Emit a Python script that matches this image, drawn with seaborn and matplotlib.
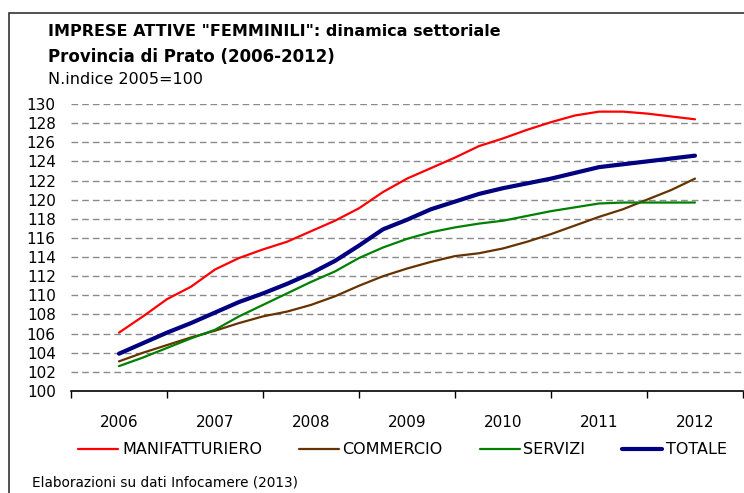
import numpy as np
import pandas as pd
import matplotlib.pyplot as plt
from matplotlib.patches import Rectangle
import seaborn as sns

# -----------------------------
# Dati (n. indice 2005=100, trimestrali)
# -----------------------------
anni = ["2006", "2007", "2008", "2009", "2010", "2011", "2012"]

manifatturiero = [106.1, 107.8, 109.6, 110.9, 112.7, 113.9, 114.8, 115.6, 116.7,
                  117.8, 119.1, 120.8, 122.2, 123.3, 124.4, 125.6, 126.4, 127.3,
                  128.1, 128.8, 129.2, 129.2, 129.0, 128.7, 128.4]
commercio = [103.1, 104.0, 104.8, 105.6, 106.3, 107.1, 107.8, 108.3, 109.0,
             109.9, 111.0, 112.0, 112.8, 113.5, 114.1, 114.4, 114.9, 115.6,
             116.4, 117.3, 118.2, 119.0, 120.0, 121.0, 122.2]
servizi = [102.6, 103.5, 104.5, 105.5, 106.4, 107.8, 109.0, 110.2, 111.4,
           112.5, 113.9, 115.0, 115.9, 116.6, 117.1, 117.5, 117.8, 118.3,
           118.8, 119.2, 119.6, 119.7, 119.7, 119.7, 119.7]
totale = [103.9, 105.0, 106.1, 107.1, 108.2, 109.3, 110.2, 111.2, 112.3,
          113.6, 115.2, 116.9, 117.9, 119.0, 119.8, 120.6, 121.2, 121.7,
          122.2, 122.8, 123.4, 123.7, 124.0, 124.3, 124.6]

serie = {
    "MANIFATTURIERO": manifatturiero,
    "COMMERCIO": commercio,
    "SERVIZI": servizi,
    "TOTALE": totale,
}
colori = {
    "MANIFATTURIERO": "#FF0000",
    "COMMERCIO": "#663300",
    "SERVIZI": "#008000",
    "TOTALE": "#000080",
}
spessori = {"MANIFATTURIERO": 1.6, "COMMERCIO": 1.6, "SERVIZI": 1.6, "TOTALE": 3.0}

# posizione trimestrale sull'asse (0 = 2006, 6 = 2012)
trimestre = np.arange(len(totale)) / 4

df = pd.concat([
    pd.DataFrame({"pos": trimestre, "valore": v, "settore": k})
    for k, v in serie.items()
])

# -----------------------------
# Grafico
# -----------------------------
sns.set_theme(style="white")
plt.rcParams["font.family"] = ["DejaVu Sans"]
plt.rcParams["text.color"] = "black"
plt.rcParams["xtick.color"] = "black"
plt.rcParams["ytick.color"] = "black"

fig = plt.figure(figsize=(7.44, 4.93), dpi=100)
ax = fig.add_axes([71 / 744, 1 - 391 / 493, 672 / 744, 287 / 493])

for nome in serie:
    sns.lineplot(
        data=df[df["settore"] == nome],
        x="pos",
        y="valore",
        color=colori[nome],
        linewidth=spessori[nome],
        label=nome,
        ax=ax,
    )

ax.set_xlim(-0.5, 6.5)
ax.set_ylim(100, 130)
ax.set_yticks(range(100, 131, 2))
ax.set_xticks(range(len(anni)))
ax.set_xticklabels(anni)
ax.set_xticks(np.arange(-0.5, 7, 1), minor=True)
ax.tick_params(axis="x", which="major", length=0, labelsize=11, pad=17)
ax.tick_params(axis="x", which="minor", length=5, width=1, color="black",
               direction="out", bottom=True)
ax.tick_params(axis="y", length=0, labelsize=11, pad=11)
ax.set_xlabel("")
ax.set_ylabel("")

for s in ["left", "right", "top"]:
    ax.spines[s].set_visible(False)
ax.spines["bottom"].set_color("black")
ax.spines["bottom"].set_linewidth(1.2)

ax.yaxis.grid(True, linestyle=(0, (4.8, 2.9)), color="#8a8a8a", linewidth=1)
ax.xaxis.grid(False)
ax.set_axisbelow(True)
ax.get_ygridlines()[0].set_visible(False)

ax.get_legend().remove()
handles, labels = ax.get_legend_handles_labels()
fig.legend(
    handles, labels,
    loc="center left",
    bbox_to_anchor=(78 / 744, 1 - 450 / 493),
    ncol=4,
    frameon=False,
    fontsize=11.5,
    handlelength=2.5,
    handletextpad=0.25,
    columnspacing=2.3,
    borderpad=0,
    borderaxespad=0,
)

# Titoli
fig.text(48 / 744, 1 - 32 / 493, "IMPRESE ATTIVE \"FEMMINILI\": dinamica settoriale",
         fontsize=11.5, fontweight="bold", va="center", ha="left")
fig.text(48 / 744, 1 - 57 / 493, "Provincia di Prato (2006-2012)",
         fontsize=12, fontweight="bold", va="center", ha="left")
fig.text(48 / 744, 1 - 80 / 493, "N.indice 2005=100",
         fontsize=11.5, va="center", ha="left")
fig.text(32 / 744, 1 - 483 / 493, "Elaborazioni su dati Infocamere (2013)",
         fontsize=9.8, va="center", ha="left")

# cornice esterna
fig.patches.append(Rectangle((8.5 / 744, -0.1), 1.2, 1.1 - 13.5 / 493,
                             transform=fig.transFigure, fill=False,
                             edgecolor="#333333", linewidth=1.2))

fig.savefig("out.png", dpi=100)
